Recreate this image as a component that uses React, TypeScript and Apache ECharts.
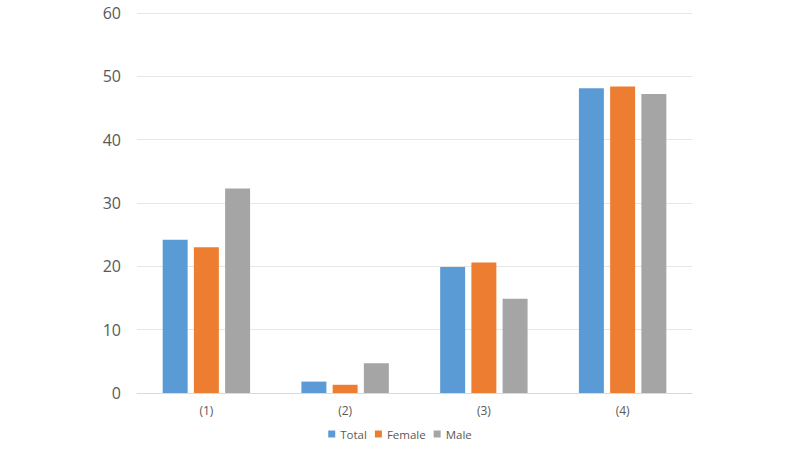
import React, { useEffect, useRef } from "react";
import * as echarts from "echarts";

const categories = ["(1)", "(2)", "(3)", "(4)"];
const totalValues = [24.2, 1.8, 19.9, 48.1];
const femaleValues = [23.0, 1.3, 20.6, 48.4];
const maleValues = [32.3, 4.7, 14.9, 47.2];
const seriesNames = ["Total", "Female", "Male"];

const FONT = "'Open Sans', 'Liberation Sans', sans-serif";

export default function App() {
  const ref = useRef<HTMLDivElement>(null);
  useEffect(() => {
    if (!ref.current) return;
    const chart = echarts.init(ref.current, undefined, { renderer: "svg" });
    chart.setOption({
      animation: false,
      backgroundColor: "#ffffff",
      color: ["#5B9BD5", "#ED7D31", "#A5A5A5"],
      grid: { left: 137, right: 108, top: 13, bottom: 57, containLabel: false },
      legend: {
        bottom: 5,
        left: "center",
        itemWidth: 7,
        itemHeight: 7,
        itemGap: 8,
        icon: "rect",
        textStyle: { fontFamily: FONT, fontSize: 11.5, color: "#595959" },
        data: seriesNames,
      },
      xAxis: {
        type: "category",
        data: categories,
        axisLine: { lineStyle: { color: "#d9d9d9", width: 1 } },
        axisTick: { show: false },
        axisLabel: { fontFamily: FONT, fontSize: 12, color: "#595959", margin: 11 },
      },
      yAxis: {
        type: "value",
        min: 0,
        max: 60,
        interval: 10,
        axisLine: { show: false },
        axisTick: { show: false },
        axisLabel: { fontFamily: FONT, fontSize: 16, color: "#595959", margin: 16 },
        splitLine: { lineStyle: { color: "#e6e6e6", width: 1 } },
      },
      series: [
        { name: seriesNames[0], type: "bar", data: totalValues, barWidth: "18%", barGap: "25%" },
        { name: seriesNames[1], type: "bar", data: femaleValues, barWidth: "18%", barGap: "25%" },
        { name: seriesNames[2], type: "bar", data: maleValues, barWidth: "18%", barGap: "25%" },
      ],
    });
    return () => chart.dispose();
  }, []);
  return (
    <div
      ref={ref}
      style={{ position: "fixed", left: 0, top: 0, width: 800, height: 450 }}
    />
  );
}
